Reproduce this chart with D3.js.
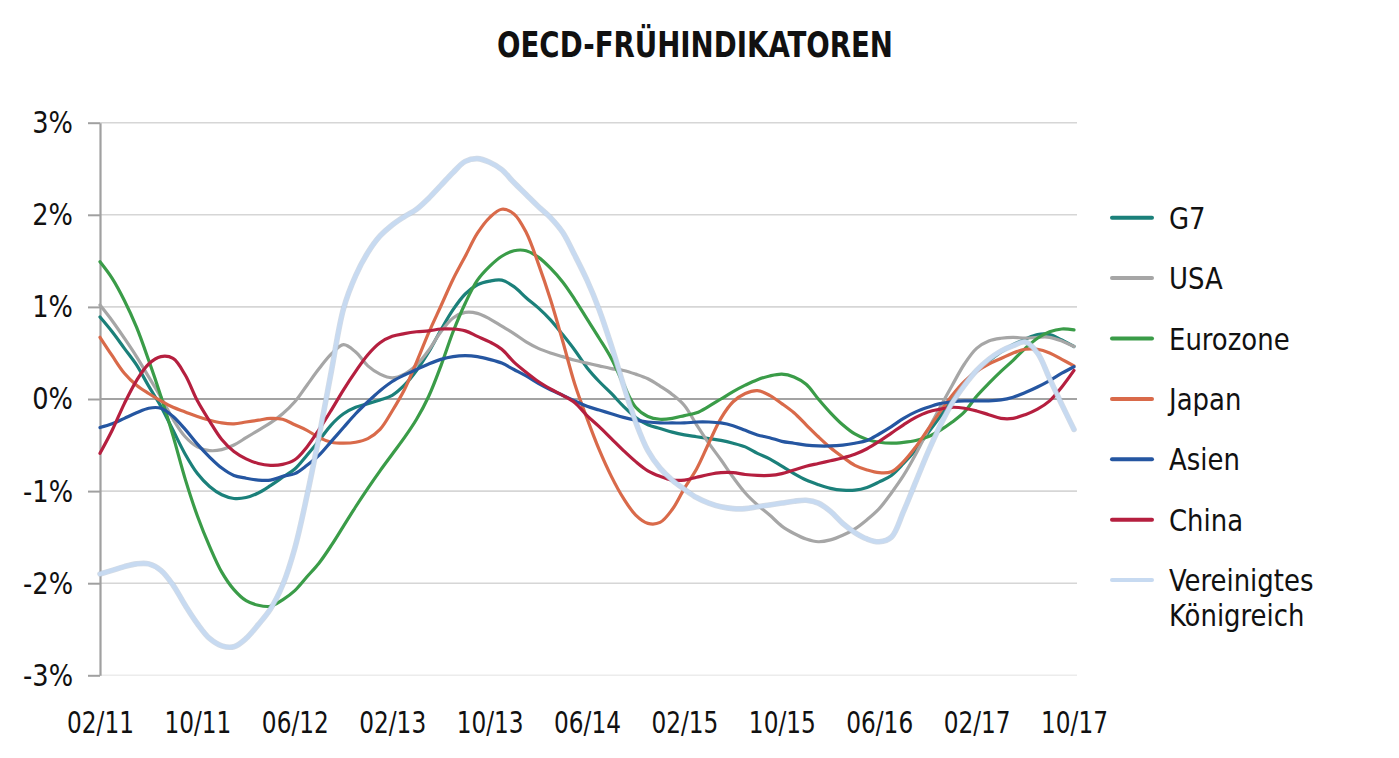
<!DOCTYPE html>
<html>
<head>
<meta charset="utf-8">
<script src="https://cdn.jsdelivr.net/npm/d3@7"></script>
<style>
  body { margin: 0; background: #ffffff; }
  svg text { font-family: "Liberation Sans Narrow", "Arial Narrow", "DejaVu Sans Condensed", sans-serif; fill: #111111; }
</style>
</head>
<body>
<svg id="chart" width="1399" height="758"></svg>
<script>
// ---------- data ----------
const chartTitle = "OECD-FRÜHINDIKATOREN";
const seriesNames = ["G7", "USA", "Eurozone", "Japan", "Asien", "China", "Vereinigtes Königreich"];
const legendLines = [["G7"], ["USA"], ["Eurozone"], ["Japan"], ["Asien"], ["China"], ["Vereinigtes", "Königreich"]];
const xTickLabels = ["02/11", "10/11", "06/12", "02/13", "10/13", "06/14", "02/15", "10/15", "06/16", "02/17", "10/17"];
const yTickValues = [3, 2, 1, 0, -1, -2, -3];
const yTickLabels = ["3%", "2%", "1%", "0%", "-1%", "-2%", "-3%"];

// monthly values (%), 02/2011 .. 10/2017
const g7 = [0.89,0.73,0.55,0.37,0.14,-0.08,-0.34,-0.60,-0.81,-0.95,-1.04,-1.08,-1.07,-1.02,-0.94,-0.85,-0.76,
  -0.61,-0.45,-0.28,-0.16,-0.09,-0.05,-0.01,0.04,0.15,0.31,0.51,0.75,0.97,1.14,1.24,1.28,
  1.29,1.22,1.10,0.99,0.86,0.70,0.53,0.34,0.19,0.06,-0.08,-0.20,-0.28,-0.32,-0.36,-0.39,
  -0.41,-0.43,-0.45,-0.48,-0.52,-0.59,-0.65,-0.73,-0.81,-0.88,-0.93,-0.97,-0.99,-0.99,-0.96,-0.90,
  -0.83,-0.70,-0.55,-0.37,-0.19,0.00,0.17,0.31,0.41,0.51,0.59,0.65,0.70,0.70,0.64,0.57];
const usa = [1.02,0.85,0.66,0.46,0.24,0.02,-0.22,-0.41,-0.52,-0.56,-0.55,-0.50,-0.42,-0.34,-0.26,-0.16,-0.03,
  0.15,0.33,0.49,0.59,0.51,0.36,0.27,0.23,0.27,0.37,0.53,0.73,0.88,0.94,0.93,0.87,
  0.79,0.71,0.62,0.55,0.50,0.46,0.42,0.39,0.36,0.33,0.31,0.27,0.22,0.14,0.05,-0.07,
  -0.28,-0.48,-0.66,-0.85,-1.02,-1.15,-1.26,-1.38,-1.46,-1.52,-1.55,-1.53,-1.48,-1.41,-1.31,-1.19,
  -1.02,-0.83,-0.60,-0.34,-0.09,0.15,0.38,0.55,0.63,0.66,0.67,0.66,0.67,0.67,0.63,0.57];
const eurozone = [1.49,1.31,1.07,0.78,0.42,0.03,-0.40,-0.87,-1.27,-1.60,-1.88,-2.07,-2.19,-2.24,-2.25,-2.18,-2.08,
  -1.93,-1.78,-1.59,-1.38,-1.17,-0.97,-0.78,-0.60,-0.42,-0.22,0.03,0.36,0.73,1.04,1.29,1.44,
  1.55,1.61,1.61,1.54,1.42,1.27,1.08,0.87,0.66,0.44,0.16,-0.09,-0.19,-0.22,-0.21,-0.18,
  -0.15,-0.08,0.00,0.08,0.15,0.21,0.25,0.27,0.24,0.16,0.00,-0.15,-0.28,-0.38,-0.44,-0.47,
  -0.48,-0.47,-0.45,-0.41,-0.34,-0.25,-0.14,0.03,0.17,0.30,0.42,0.55,0.66,0.73,0.76,0.75];
const japan = [0.67,0.47,0.28,0.15,0.06,-0.02,-0.09,-0.14,-0.19,-0.23,-0.26,-0.27,-0.25,-0.23,-0.21,-0.22,-0.28,
  -0.34,-0.42,-0.47,-0.48,-0.47,-0.43,-0.33,-0.13,0.10,0.40,0.72,1.01,1.30,1.55,1.80,1.97,
  2.06,2.01,1.81,1.47,1.08,0.63,0.16,-0.21,-0.55,-0.84,-1.08,-1.26,-1.35,-1.34,-1.20,-0.97,
  -0.76,-0.48,-0.21,-0.03,0.06,0.09,0.04,-0.05,-0.15,-0.28,-0.41,-0.53,-0.63,-0.72,-0.77,-0.80,
  -0.79,-0.68,-0.52,-0.33,-0.14,0.04,0.19,0.30,0.38,0.44,0.50,0.54,0.54,0.50,0.43,0.36];
const asien = [-0.31,-0.27,-0.21,-0.15,-0.10,-0.10,-0.19,-0.33,-0.49,-0.63,-0.75,-0.83,-0.86,-0.88,-0.88,-0.84,-0.81,
  -0.72,-0.61,-0.46,-0.31,-0.16,-0.03,0.09,0.19,0.26,0.32,0.38,0.43,0.46,0.47,0.46,0.43,
  0.39,0.32,0.25,0.17,0.10,0.04,-0.02,-0.08,-0.12,-0.16,-0.20,-0.23,-0.25,-0.26,-0.26,-0.26,
  -0.25,-0.25,-0.26,-0.29,-0.34,-0.39,-0.42,-0.46,-0.48,-0.50,-0.51,-0.51,-0.50,-0.48,-0.45,-0.38,
  -0.30,-0.21,-0.14,-0.09,-0.05,-0.03,-0.02,-0.02,-0.02,-0.01,0.02,0.07,0.13,0.20,0.28,0.35];
const china = [-0.59,-0.34,-0.05,0.20,0.38,0.46,0.44,0.26,-0.02,-0.24,-0.44,-0.57,-0.65,-0.70,-0.72,-0.71,-0.66,
  -0.52,-0.33,-0.12,0.10,0.30,0.48,0.61,0.68,0.71,0.73,0.74,0.76,0.76,0.74,0.68,0.62,
  0.54,0.40,0.29,0.19,0.11,0.04,-0.04,-0.18,-0.30,-0.43,-0.56,-0.68,-0.78,-0.84,-0.88,-0.88,
  -0.85,-0.82,-0.80,-0.80,-0.82,-0.83,-0.83,-0.81,-0.77,-0.73,-0.70,-0.67,-0.64,-0.60,-0.54,-0.46,
  -0.37,-0.28,-0.20,-0.14,-0.11,-0.09,-0.10,-0.13,-0.17,-0.21,-0.21,-0.17,-0.11,-0.02,0.13,0.31];
const uk = [-1.90,-1.86,-1.82,-1.79,-1.79,-1.86,-2.02,-2.24,-2.44,-2.60,-2.68,-2.69,-2.60,-2.45,-2.28,-2.02,-1.62,
  -1.05,-0.40,0.30,0.98,1.34,1.59,1.77,1.89,1.98,2.06,2.18,2.32,2.46,2.58,2.61,2.57,
  2.49,2.35,2.22,2.09,1.97,1.81,1.56,1.29,0.97,0.58,0.15,-0.25,-0.56,-0.75,-0.88,-0.98,
  -1.07,-1.13,-1.17,-1.19,-1.19,-1.17,-1.15,-1.13,-1.11,-1.10,-1.13,-1.22,-1.35,-1.45,-1.52,-1.55,
  -1.50,-1.22,-0.90,-0.58,-0.29,-0.04,0.15,0.31,0.43,0.52,0.58,0.62,0.50,0.22,-0.06,-0.33];

const seriesValues = [g7, usa, eurozone, japan, asien, china, uk];

// ---------- styling ----------
const seriesColors = ["#1b807a", "#a6a6a6", "#3a9c48", "#d96a4a", "#2556a1", "#b51f3f", "#c7daf1"];
const seriesWidths = [3.2, 3.2, 3.2, 3.2, 3.2, 3.2, 4.2];

// condense text horizontally to mimic the condensed typeface of the original
function condense(sel, factor) {
  sel.each(function () {
    const w = this.getComputedTextLength();
    d3.select(this).attr("textLength", w * factor).attr("lengthAdjust", "spacingAndGlyphs");
  });
}

// categories: months from 02/2011
const startMonth = new Date(2011, 1, 1);
const fmtMonth = d3.timeFormat("%m/%y");
const months = d3.range(g7.length).map(i => fmtMonth(d3.timeMonth.offset(startMonth, i)));

const svg = d3.select("#chart");
svg.append("rect").attr("width", 1399).attr("height", 758).attr("fill", "#ffffff");

const plotLeft = 100, plotRight = 1075, plotTop = 122.7, plotBottom = 675.3;

const x = d3.scalePoint().domain(months).range([plotLeft, 1074]);
const y = d3.scaleLinear().domain([-3, 3]).range([plotBottom, plotTop]);

// title
svg.append("text")
  .attr("x", 695).attr("y", 57)
  .attr("text-anchor", "middle")
  .style("font-size", "36px").style("font-weight", "bold")
  .attr("textLength", 396).attr("lengthAdjust", "spacingAndGlyphs")
  .text(chartTitle);

// gridlines
const grid = svg.append("g");
grid.selectAll("line").data(yTickValues).join("line")
  .attr("x1", plotLeft).attr("x2", plotRight + 2)
  .attr("y1", d => y(d)).attr("y2", d => y(d))
  .attr("stroke", d => d === 0 ? "#a3a3a3" : (d === -3 ? "#ececec" : "#d6d6d6"))
  .attr("stroke-width", d => d === 0 ? 2.2 : 1.6);

// y axis
const yAxis = d3.axisLeft(y)
  .tickValues(yTickValues)
  .tickFormat((d, i) => yTickLabels[i])
  .tickSize(12).tickSizeOuter(0).tickPadding(15);
const gy = svg.append("g").attr("transform", `translate(${plotLeft},0)`).call(yAxis);
gy.select(".domain").attr("stroke", "#a0a0a0").attr("stroke-width", 2.2);
gy.selectAll(".tick line").attr("stroke", "#a0a0a0").attr("stroke-width", 2);
gy.selectAll(".tick text").style("font-size", "31px").attr("fill", "#111");
condense(gy.selectAll(".tick text"), 0.92);

// x axis (labels only)
const xAxis = d3.axisBottom(x).tickValues(xTickLabels).tickSize(0).tickPadding(36);
const gx = svg.append("g").attr("transform", `translate(0,${plotBottom})`).call(xAxis);
gx.select(".domain").remove();
gx.selectAll(".tick text").style("font-size", "30px").attr("fill", "#111");
condense(gx.selectAll(".tick text"), 0.86);

// lines
const line = d3.line()
  .x((d, i) => x(months[i]))
  .y(d => y(d))
  .curve(d3.curveCatmullRom.alpha(0.5));

const gLines = svg.append("g").attr("fill", "none").attr("stroke-linejoin", "round").attr("stroke-linecap", "round");
seriesValues.forEach((vals, k) => {
  if (k === 6) {
    gLines.append("path").attr("d", line(vals))
      .attr("stroke", "#b6c3d3").attr("stroke-width", seriesWidths[k] + 1.4).attr("opacity", 0.6);
  }
  gLines.append("path").attr("d", line(vals))
    .attr("stroke", seriesColors[k]).attr("stroke-width", seriesWidths[k]);
});

// legend
const legend = svg.append("g");
legendLines.forEach((lines, k) => {
  const ly = 217.7 + k * 60.4;
  legend.append("line")
    .attr("x1", 1112).attr("x2", 1152).attr("y1", ly).attr("y2", ly)
    .attr("stroke", seriesColors[k]).attr("stroke-width", 4).attr("stroke-linecap", "round");
  lines.forEach((s, j) => {
    const t = legend.append("text")
      .attr("x", 1169).attr("y", ly + j * 35).attr("dy", "0.36em")
      .style("font-size", "31px")
      .text(s);
    condense(t, 0.93);
  });
});
</script>
</body>
</html>
